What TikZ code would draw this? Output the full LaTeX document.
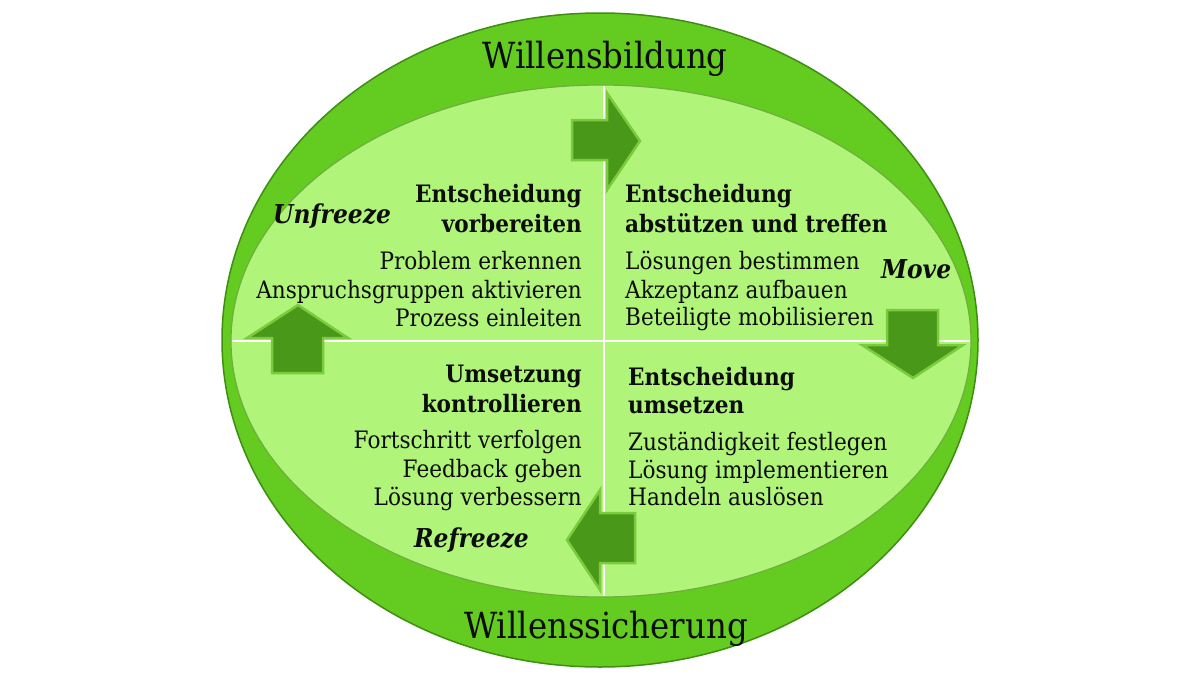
\documentclass[tikz,border=0pt]{standalone}
\usepackage{fontspec}
\setmainfont{DejaVu Serif}[FakeStretch=0.9]
\definecolor{outerg}{HTML}{64CB21}
\definecolor{outeredge}{HTML}{3E8E12}
\definecolor{innerg}{HTML}{B0F57A}
\definecolor{inneredge}{HTML}{6FAE3E}
\definecolor{arrowdark}{HTML}{4A9819}
\definecolor{arrowlight}{HTML}{7CCB3E}
\definecolor{txt}{HTML}{0D0D0D}
\tikzset{
  item/.style={font=\fontsize{24}{27}\selectfont, text=txt, inner sep=0pt},
  head/.style={font=\bfseries\fontsize{24}{27}\selectfont, text=txt, inner sep=0pt},
  phase/.style={font=\bfseries\itshape\fontsize{26}{29}\selectfont, text=txt, inner sep=0pt},
  title/.style={font=\fontsize{36}{40}\selectfont, text=txt, inner sep=0pt},
  bigarrow/.style={fill=arrowdark, draw=arrowlight, line width=2.5pt, line join=miter},
  divider/.style={draw=white, line width=1.8pt}
}
\begin{document}
\begin{tikzpicture}[x=1pt,y=-1pt]
\useasboundingbox (0,0) rectangle (1200,675);
\fill[white] (0,0) rectangle (1200,675);
% disc
\path[fill=outerg, draw=outeredge, line width=1.5pt] (600,340) ellipse [x radius=378pt, y radius=327pt];
\path[fill=innerg, draw=inneredge, line width=1.2pt] (601,341) ellipse [x radius=370pt, y radius=256pt];
% dividers
\coordinate (vt) at (604,86);
\coordinate (vb) at (604,596);
\coordinate (hl) at (232,341);
\coordinate (hr) at (970,341);
\draw[divider] (vt) -- (vb);
\draw[divider] (hl) -- (hr);
% arrows
\draw[bigarrow] (572,120) -- (607,120) -- (607,93) -- (640,141) -- (607,190) -- (607,160) -- (572,160) -- cycle;
\draw[bigarrow] (887,310) -- (938,310) -- (938,345) -- (963,345) -- (913,378) -- (862,345) -- (887,345) -- cycle;
\draw[bigarrow] (272,373) -- (323,373) -- (323,338) -- (348,338) -- (298,305) -- (247,338) -- (272,338) -- cycle;
\draw[bigarrow] (635,513) -- (600,513) -- (600,490) -- (567,540) -- (600,590) -- (600,563) -- (635,563) -- cycle;
% titles
\node[title, anchor=base] (t1) at (605,68) {Willensbildung};
\node[title, anchor=base] (t2) at (606,638) {Willenssicherung};
% top left
\node[head, anchor=base east] (tl1) at (582,202) {Entscheidung};
\node[head, anchor=base east] (tl2) at (582,232) {vorbereiten};
\node[item, anchor=base east] (tl3) at (582,269) {Problem erkennen};
\node[item, anchor=base east] (tl4) at (582,298) {Anspruchsgruppen aktivieren};
\node[item, anchor=base east] (tl5) at (582,326) {Prozess einleiten};
\node[phase, anchor=base west] (p1) at (273,223) {Unfreeze};
% top right
\node[head, anchor=base west] (tr1) at (625,202) {Entscheidung};
\node[head, anchor=base west] (tr2) at (625,232) {abstützen und treffen};
\node[item, anchor=base west] (tr3) at (625,269) {Lösungen bestimmen};
\node[item, anchor=base west] (tr4) at (625,298) {Akzeptanz aufbauen};
\node[item, anchor=base west] (tr5) at (625,325) {Beteiligte mobilisieren};
\node[phase, anchor=base west] (p2) at (881,278) {Move};
% bottom left
\node[head, anchor=base east] (bl1) at (582,382) {Umsetzung};
\node[head, anchor=base east] (bl2) at (582,412) {kontrollieren};
\node[item, anchor=base east] (bl3) at (582,448) {Fortschritt verfolgen};
\node[item, anchor=base east] (bl4) at (582,477) {Feedback geben};
\node[item, anchor=base east] (bl5) at (582,505) {Lösung verbessern};
\node[phase, anchor=base west] (p3) at (414,547) {Refreeze};
% bottom right
\node[head, anchor=base west] (br1) at (628,385) {Entscheidung};
\node[head, anchor=base west] (br2) at (628,413) {umsetzen};
\node[item, anchor=base west] (br3) at (628,450) {Zuständigkeit festlegen};
\node[item, anchor=base west] (br4) at (628,478) {Lösung implementieren};
\node[item, anchor=base west] (br5) at (628,505) {Handeln auslösen};
\end{tikzpicture}
\end{document}
